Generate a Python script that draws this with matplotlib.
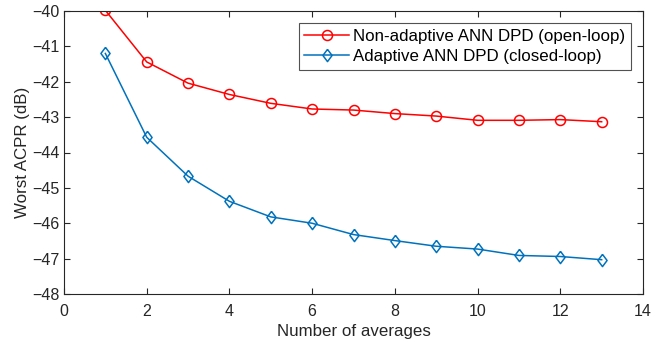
import matplotlib
matplotlib.use("Agg")
import matplotlib.pyplot as plt

plt.rcParams['font.family'] = ['Liberation Sans', 'DejaVu Sans']

averages = [1, 2, 3, 4, 5, 6, 7, 8, 9, 10, 11, 12, 13]
open_loop = [-39.98, -41.44, -42.04, -42.36, -42.61, -42.77, -42.80,
             -42.90, -42.97, -43.09, -43.09, -43.07, -43.13]
closed_loop = [-41.20, -43.57, -44.67, -45.38, -45.82, -46.00, -46.32,
               -46.49, -46.65, -46.73, -46.91, -46.94, -47.03]

xticks = [0, 2, 4, 6, 8, 10, 12, 14]
yticks = [-48, -47, -46, -45, -44, -43, -42, -41, -40]

axcol = (0.15, 0.15, 0.15)
# MATLAB style diamond, a bit wider than matplotlib's thin 'd'
diamond = [(0, 1), (0.75, 0), (0, -1), (-0.75, 0), (0, 1)]

fig = plt.figure(figsize=(6.7, 3.47), dpi=100)
ax = fig.add_axes([64/670, 1 - 294/347, (643-64)/670, (294-11)/347])

ax.plot(averages, open_loop, color='#ff0000', lw=1.1, marker='o',
        ms=7.2, mfc='none', mew=1.1, label='Non-adaptive ANN DPD (open-loop)')
ax.plot(averages, closed_loop, color='#0072bd', lw=1.1, marker=diamond,
        ms=8.8, mfc='none', mew=1.1, label='Adaptive ANN DPD (closed-loop)')

ax.set_xlim(0, 14)
ax.set_ylim(-48, -40)
ax.set_xticks(xticks)
ax.set_yticks(yticks)
ax.tick_params(direction='in', top=True, right=True, length=4,
               color=axcol, labelcolor=axcol, labelsize=11.5, width=0.8)
ax.tick_params(axis='x', pad=7.5)
for s in ax.spines.values():
    s.set_color(axcol)
    s.set_linewidth(0.8)

ax.set_xlabel('Number of averages', fontsize=12.2, color=axcol, labelpad=3)
ax.set_ylabel('Worst ACPR (dB)', fontsize=12.2, color=axcol, labelpad=1)

leg = ax.legend(loc='upper right', bbox_to_anchor=(0.979, 0.958), fontsize=12.2,
                frameon=True, fancybox=False, edgecolor=axcol,
                borderpad=0.35, labelspacing=0.3, handlelength=2.6,
                handletextpad=0.25, borderaxespad=0)
leg.get_frame().set_linewidth(0.8)

fig.savefig('out.png', dpi=100)
